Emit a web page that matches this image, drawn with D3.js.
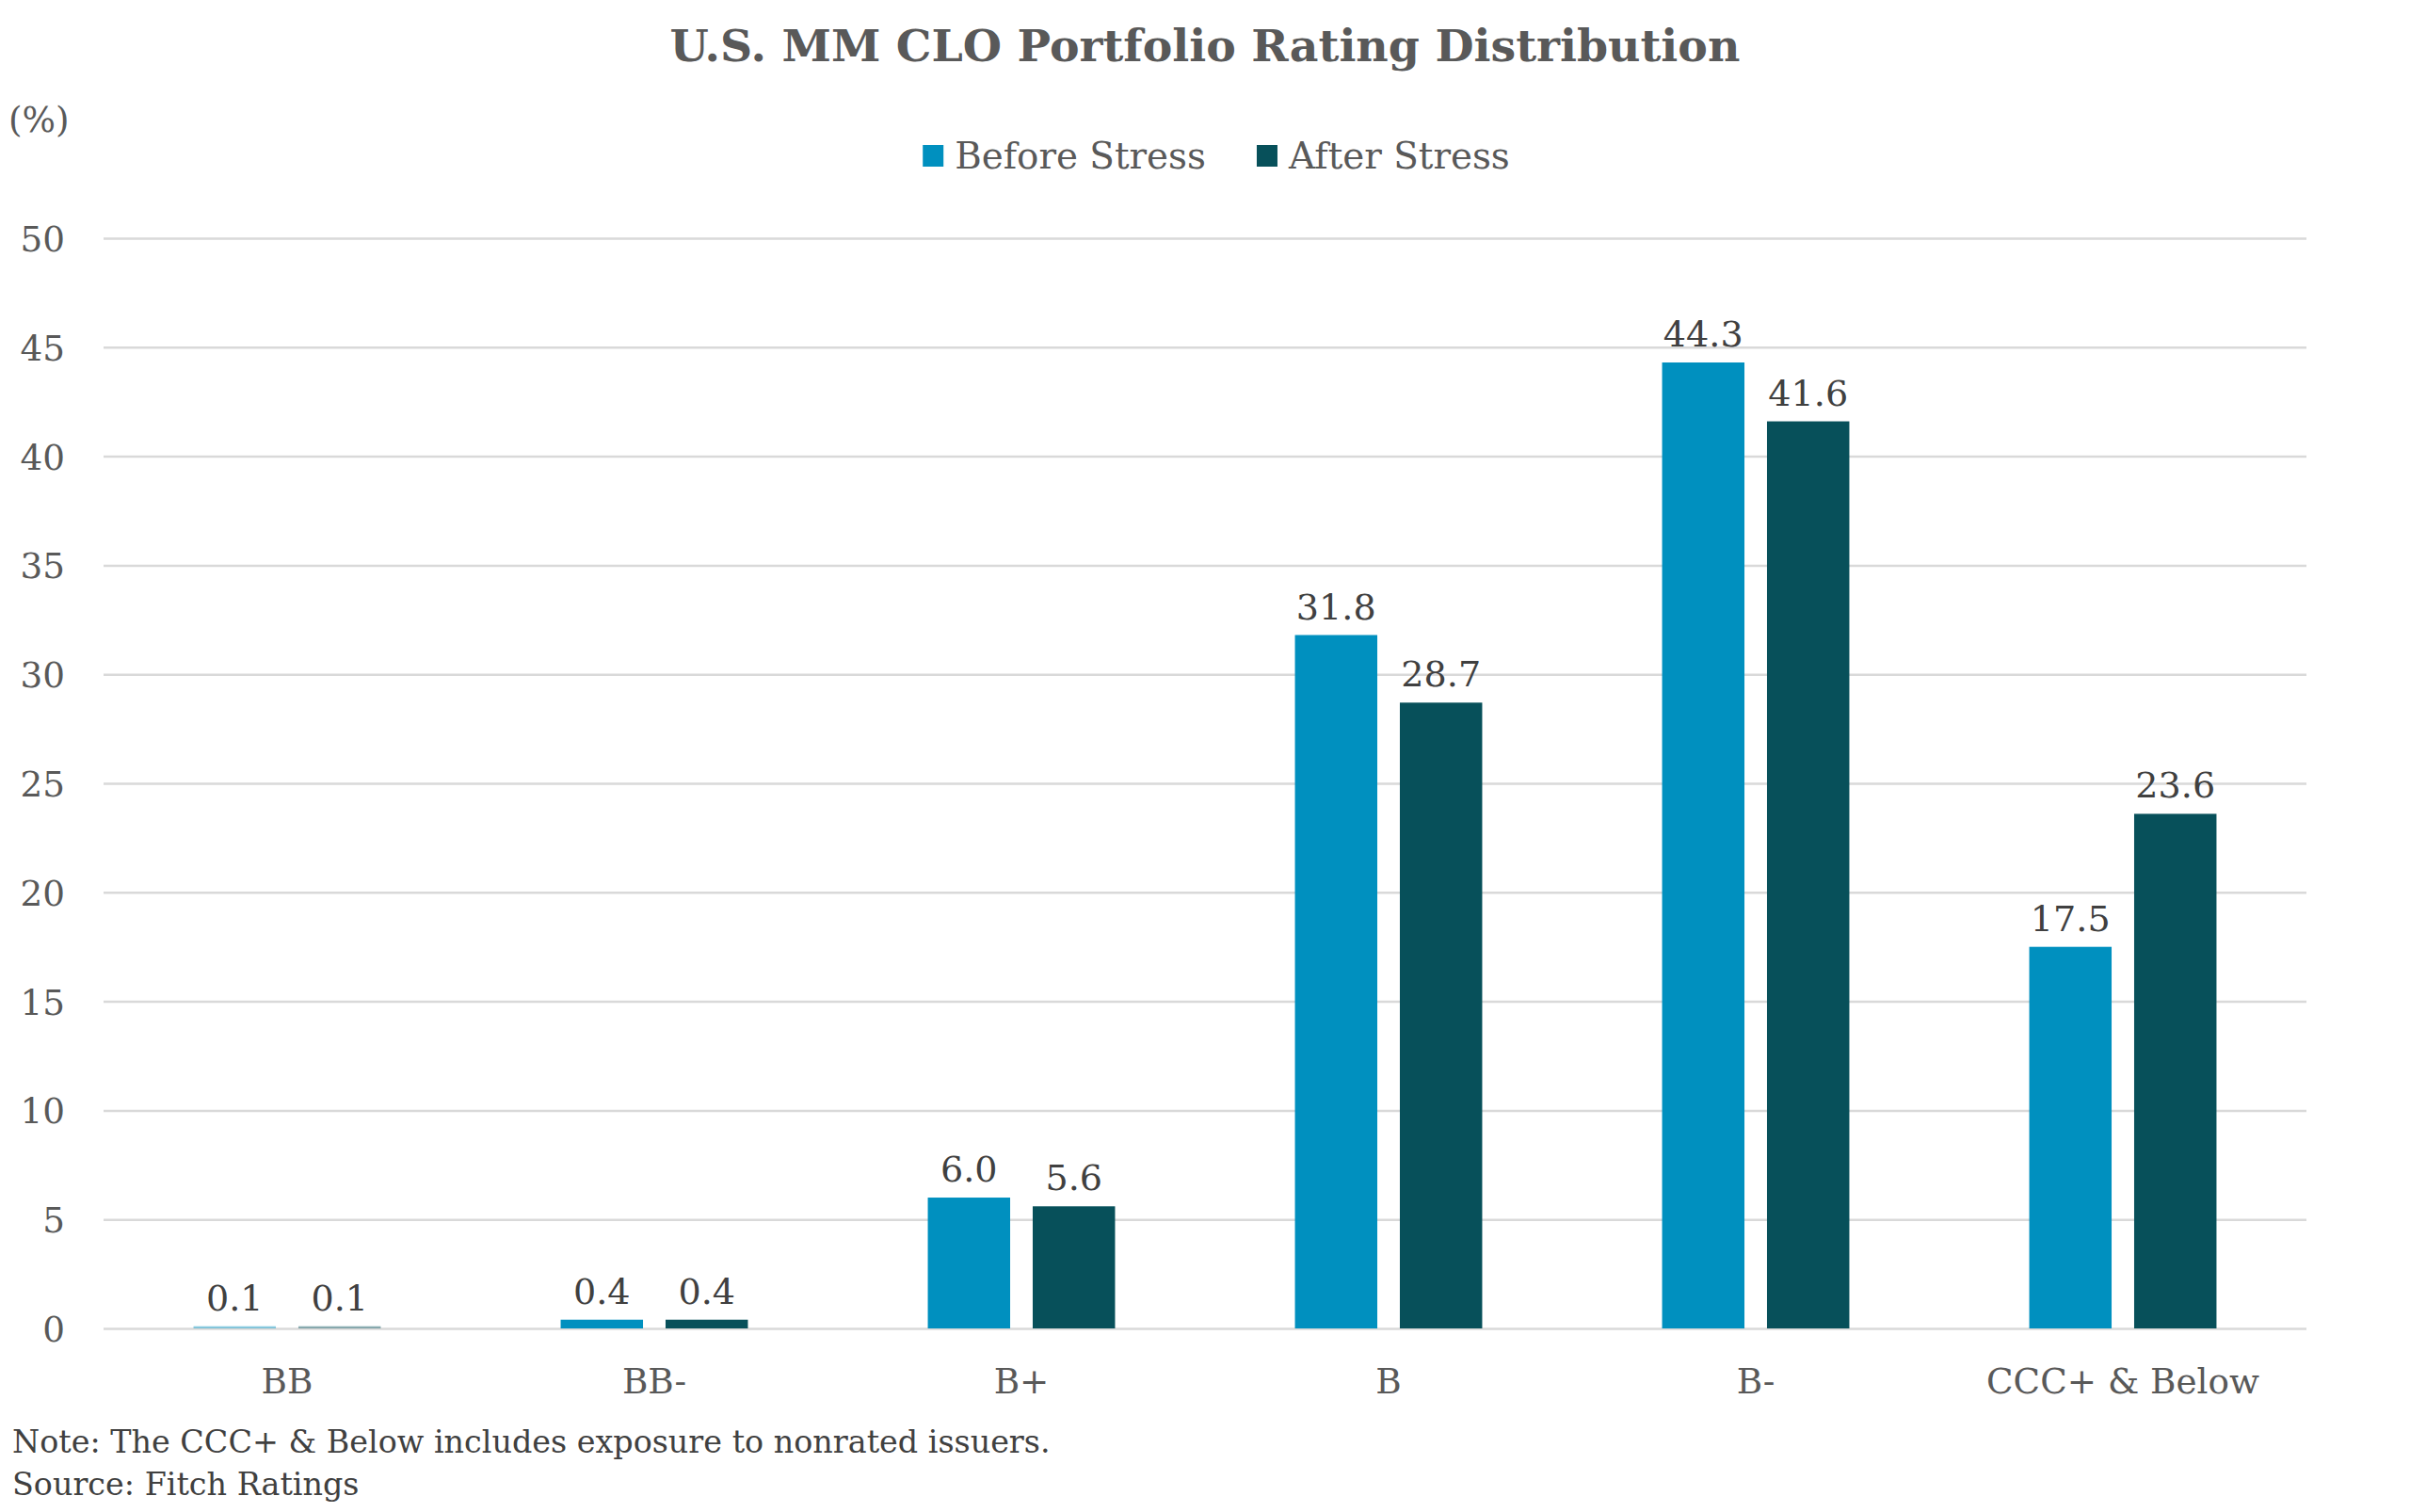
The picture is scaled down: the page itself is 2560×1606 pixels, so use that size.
<!DOCTYPE html>
<html>
<head>
<meta charset="utf-8">
<script src="https://cdn.jsdelivr.net/npm/d3@7"></script>
<style>
  body { margin: 0; background: #fff; }
  text { font-family: "DejaVu Serif", "Liberation Serif", serif; }
</style>
</head>
<body>
<script>
var categories = ['BB', 'BB-', 'B+', 'B', 'B-', 'CCC+ & Below'];
var beforeStress = [0.1, 0.4, 6.0, 31.8, 44.3, 17.5];
var afterStress = [0.1, 0.4, 5.6, 28.7, 41.6, 23.6];
var seriesNames = ['Before Stress', 'After Stress'];
var yTicks = [0, 5, 10, 15, 20, 25, 30, 35, 40, 45, 50];

var width = 2560, height = 1606;
var plotLeft = 110, plotRight = 2450, plotTop = 253, plotBottom = 1411;
var colors = ['#0090bf', '#07505a'];
var textGray = '#595959';
var labelGray = '#404040';

var svg = d3.select('body')
  .append('svg')
    .attr('width', width)
    .attr('height', height);

// work out how wide the local serif runs so text lengths match
function fitSize(str, weight, target, base) {
  var t = svg.append('text')
    .attr('font-size', base)
    .attr('font-weight', weight)
    .text(str);
  var w = t.node().getComputedTextLength();
  t.remove();
  return base * target / w;
}
var notes = ['Note: The CCC+ & Below includes exposure to nonrated issuers.', 'Source: Fitch Ratings'];
var fs = fitSize('CCC+ & Below', 'normal', 290, 42);
var titleFs = fitSize('U.S. MM CLO Portfolio Rating Distribution', 'bold', 1137, 48);
var noteFs = fitSize(notes[0], 'normal', 1103, 36);

var x0 = d3.scaleBand()
  .domain(categories)
  .range([plotLeft, plotRight])
  .paddingInner(0.49)
  .paddingOuter(0.245);

var x1 = d3.scaleBand()
  .domain(seriesNames)
  .range([0, x0.bandwidth()])
  .paddingInner(0.215);

var y = d3.scaleLinear()
  .domain([0, 50])
  .range([plotBottom, plotTop]);

// gridlines + y labels
var yAxis = svg.append('g')
  .attr('transform', 'translate(' + plotLeft + ',0)')
  .call(d3.axisLeft(y).tickValues(yTicks).tickSize(-(plotRight - plotLeft)).tickPadding(41));
yAxis.select('.domain').remove();
yAxis.selectAll('line').attr('stroke', '#d9d9d9').attr('stroke-width', 2.5);
yAxis.selectAll('text')
  .attr('font-size', fs)
  .attr('fill', textGray)
  .attr('dy', '0.36em')
  .style('font-family', '"DejaVu Serif", serif');

// x labels
var xAxis = svg.append('g')
  .attr('transform', 'translate(0,' + plotBottom + ')')
  .call(d3.axisBottom(x0).tickSize(0));
xAxis.select('.domain').remove();
xAxis.selectAll('text')
  .attr('y', 69)
  .attr('dy', null)
  .attr('font-size', fs)
  .attr('fill', textGray)
  .style('font-family', '"DejaVu Serif", serif');

var rows = categories.map(function(c, i) {
  return { cat: c, vals: [beforeStress[i], afterStress[i]] };
});

var groups = svg.selectAll('g.group')
  .data(rows)
  .enter()
  .append('g')
    .attr('class', 'group')
    .attr('transform', function(d) { return 'translate(' + x0(d.cat) + ',0)'; });

groups.selectAll('rect')
  .data(function(d) { return d.vals; })
  .enter()
  .append('rect')
    .attr('x', function(d, i) { return x1(seriesNames[i]); })
    .attr('width', x1.bandwidth())
    .attr('y', function(d) { return y(d); })
    .attr('height', function(d) { return plotBottom - y(d); })
    .attr('fill', function(d, i) { return colors[i]; })
    .attr('fill-opacity', function(d) { return d < 0.2 ? 0.45 : 1; });

groups.selectAll('text.val')
  .data(function(d) { return d.vals; })
  .enter()
  .append('text')
    .attr('class', 'val')
    .attr('x', function(d, i) { return x1(seriesNames[i]) + x1.bandwidth() / 2; })
    .attr('y', function(d) { return y(d) - 17; })
    .attr('text-anchor', 'middle')
    .attr('font-size', fs * 1.02)
    .attr('fill', labelGray)
    .text(function(d) { return d.toFixed(1); });

// title
svg.append('text')
  .attr('x', 1280)
  .attr('y', 65)
  .attr('text-anchor', 'middle')
  .attr('font-size', titleFs)
  .attr('font-weight', 'bold')
  .attr('fill', textGray)
  .text('U.S. MM CLO Portfolio Rating Distribution');

// unit label
svg.append('text')
  .attr('x', 9)
  .attr('y', 140)
  .attr('font-size', fs)
  .attr('fill', textGray)
  .text('(%)');

// legend
var legend = svg.append('g');
var lx = 0;
seriesNames.forEach(function(name, i) {
  var item = legend.append('g').attr('transform', 'translate(' + lx + ',0)');
  item.append('rect')
    .attr('x', 0)
    .attr('y', 154)
    .attr('width', 22)
    .attr('height', 23)
    .attr('fill', colors[i]);
  var t = item.append('text')
    .attr('x', 34)
    .attr('y', 179)
    .attr('font-size', fs * 1.04)
    .attr('fill', textGray)
    .text(name);
  lx += 34 + t.node().getComputedTextLength() + 54;
});
var legendW = lx - 54;
legend.attr('transform', 'translate(' + (1292 - legendW / 2) + ',0)');

// notes
svg.selectAll('text.note')
  .data(notes)
  .enter()
  .append('text')
    .attr('class', 'note')
    .attr('x', 13)
    .attr('y', function(d, i) { return 1543 + i * 45; })
    .attr('font-size', noteFs)
    .attr('fill', '#404040')
    .text(function(d) { return d; });
</script>
</body>
</html>
